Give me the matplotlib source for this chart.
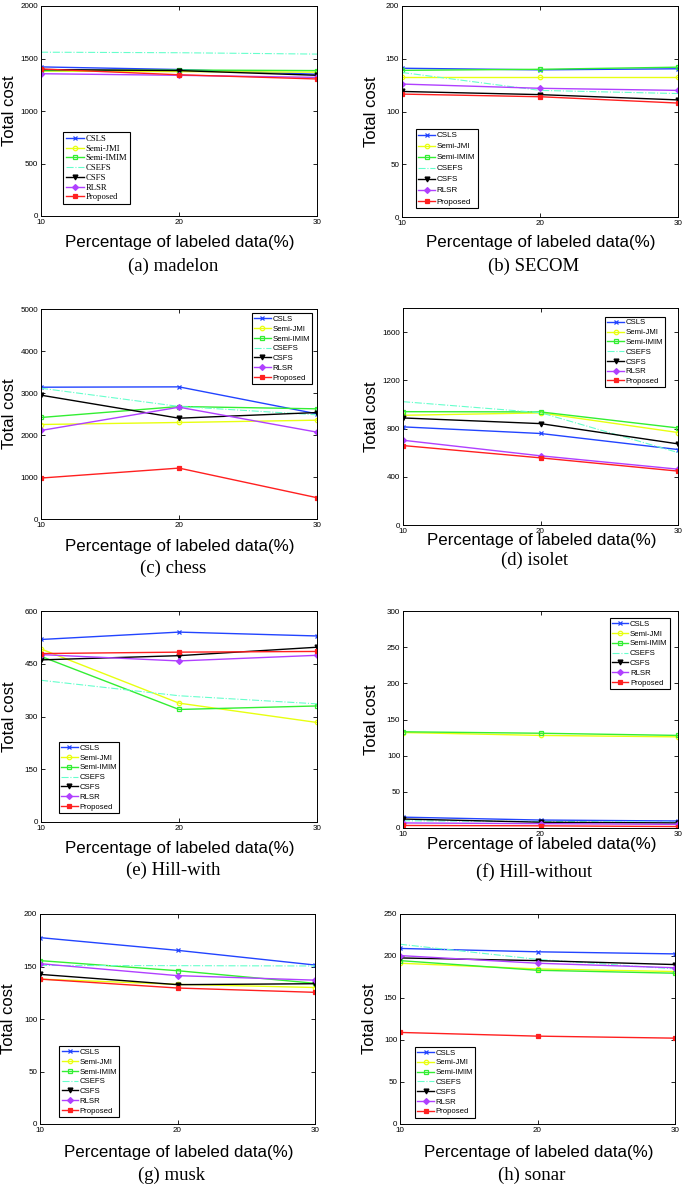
import matplotlib
matplotlib.use('Agg')
import matplotlib.pyplot as plt

plt.rcParams['font.family'] = ['Liberation Sans', 'DejaVu Sans']

x = [10, 20, 30]
methods = ['CSLS', 'Semi-JMI', 'Semi-IMIM', 'CSEFS', 'CSFS', 'RLSR', 'Proposed']

# one row per method, same order as `methods`
madelon = [[1420, 1395, 1350],
           [1380, 1375, 1370],
           [1385, 1390, 1385],
           [1560, 1555, 1542],
           [1395, 1385, 1340],
           [1355, 1340, 1320],
           [1400, 1345, 1305]]
secom = [[141, 139.5, 140.5],
         [133, 133, 133],
         [139, 140, 142],
         [137, 120, 117],
         [119, 116, 111],
         [126, 122, 120],
         [116.5, 114, 108]]
chess = [[3138, 3146, 2504],
         [2250, 2298, 2353],
         [2417, 2678, 2623],
         [3114, 2680, 2480],
         [2948, 2400, 2535],
         [2108, 2662, 2068],
         [975, 1212, 507]]
isolet = [[814, 759, 626],
          [910, 930, 767],
          [940, 938, 805],
          [1023, 932, 601],
          [888, 841, 673],
          [703, 574, 463],
          [659, 557, 447]]
hill_with = [[519, 540, 529],
             [492, 338, 283],
             [471, 320, 330],
             [403, 359, 336],
             [461, 473, 497],
             [476, 458, 474],
             [479, 483, 485]]
hill_without = [[15, 11, 9.7],
                [132, 128, 126],
                [133, 131, 128],
                [10, 9, 8],
                [12.4, 8, 7],
                [7, 6, 5],
                [3.5, 3, 2]]
musk = [[177.5, 165.4, 151.4],
        [138, 133, 130],
        [155.6, 146, 134],
        [151, 150.8, 150.5],
        [142.5, 132.7, 133.6],
        [152.7, 141.3, 137],
        [138, 129.5, 125.4]]
sonar = [[209, 205, 202.5],
         [191.4, 184.6, 181.5],
         [194.5, 183, 179.5],
         [214, 196, 184.6],
         [197.7, 194.5, 189.8],
         [200.5, 191.4, 186],
         [109, 104.6, 102.2]]

colors = ['#2244ff', '#e8ff10', '#33ee33', '#66ffcc', '#000000', '#b040ff', '#ff2020']
markers = ['x', 'o', 's', None, 'v', 'D', 's']
styles = ['-', '-', '-', '-.', '-', '-', '-']
msizes = [3, 3.2, 3, 0, 3.5, 3, 2.2]

W, H = 685, 1186
fig = plt.figure(figsize=(W / 100, H / 100), dpi=100)

# (data, caption, ylim, yticks, [left, top, width, height] px, legend loc, legend anchor, xlabel y, caption y)
panels = [
    (madelon, '(a) madelon', 2000, range(0, 2001, 500), [41, 6, 276, 210], 'lower left', (0.08, 0.057), 243, 266),
    (secom, '(b) SECOM', 200, range(0, 201, 50), [402, 6, 276, 211], 'lower left', (0.05, 0.043), 243, 266),
    (chess, '(c) chess', 5000, range(0, 5001, 1000), [41, 309, 276, 210], 'upper right', (0.982, 0.98), 547, 568),
    (isolet, '(d) isolet', 1800, range(0, 1601, 400), [403, 308, 275, 217], 'upper right', (0.953, 0.96), 541, 560),
    (hill_with, '(e) Hill-with', 600, range(0, 601, 150), [41, 611, 276, 211], 'lower left', (0.065, 0.043), 848, 870),
    (hill_without, '(f) Hill-without', 300, range(0, 301, 50), [403, 611, 275, 217], 'upper right', (0.97, 0.967), 845, 872),
    (musk, '(g) musk', 200, range(0, 201, 50), [40, 914, 275, 210], 'lower left', (0.07, 0.033), 1153, 1175),
    (sonar, '(h) sonar', 250, range(0, 251, 50), [400, 914, 275, 210], 'lower left', (0.055, 0.03), 1152, 1175),
]

for i, (data, cap, ymax, yt, box, loc, anchor, xly, capy) in enumerate(panels):
    l, t, w, h = box
    ax = fig.add_axes([l / W, 1 - (t + h) / H, w / W, h / H])
    for j in range(len(methods)):
        ax.plot(x, data[j], linestyle=styles[j], color=colors[j], marker=markers[j],
                markersize=msizes[j],
                markerfacecolor='none' if markers[j] in ('o', 's') and j != 6 else colors[j],
                markeredgewidth=0.9, linewidth=1.0 if j != 3 else 0.8, label=methods[j])
    ax.set_xlim(10, 30)
    ax.set_ylim(0, ymax)
    ax.set_xticks(x)
    ax.set_yticks(list(yt))
    ax.tick_params(direction='in', length=3, width=0.6, labelsize=5.8, top=True, right=True, pad=2)
    for s in ax.spines.values():
        s.set_linewidth(0.7)
    if i == 0:
        leg_font, spacing = {'family': 'Liberation Serif', 'size': 6.2}, 0.2
    elif i == 1:
        leg_font, spacing = {'size': 5.8}, 0.42
    else:
        leg_font, spacing = {'size': 5.6}, 0.3
    ax.legend(loc=loc, bbox_to_anchor=anchor, prop=leg_font, frameon=True, fancybox=False,
              edgecolor='black', framealpha=1, borderpad=0.3, labelspacing=spacing,
              handlelength=2.1, handletextpad=0.2, borderaxespad=0)
    ax.get_legend().get_frame().set_linewidth(0.8)
    cx = (l + w / 2)
    fig.text((cx + 1) / W, 1 - xly / H, 'Percentage of labeled data(%)', ha='center', va='center', fontsize=12.2)
    fig.text((cx - 6) / W, 1 - capy / H, cap, ha='center', va='center', fontsize=13.5, family='Liberation Serif')
    fig.text((l - 31) / W, 1 - (t + h / 2) / H, 'Total cost', ha='center', va='center', rotation=90, fontsize=12)

fig.savefig('out.png', dpi=100)
